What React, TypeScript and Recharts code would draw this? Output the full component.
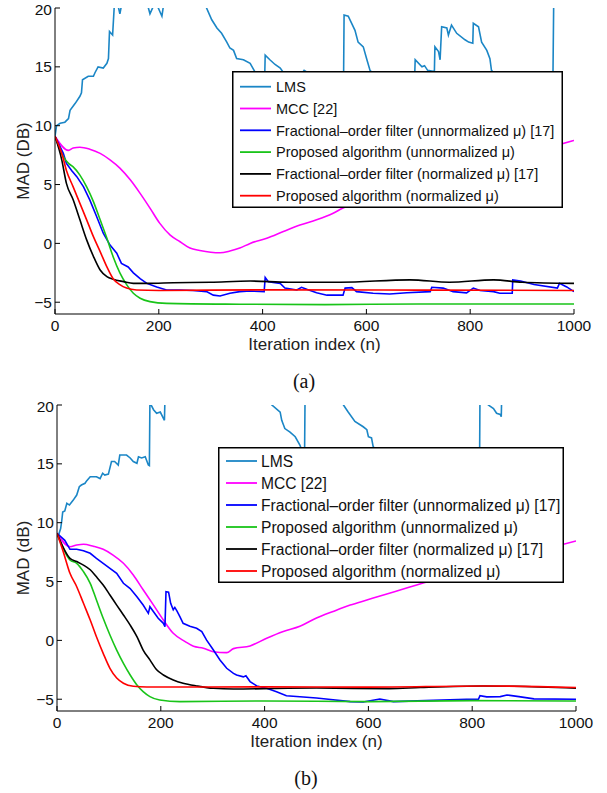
import React from "react";
import { Label, Legend, Line, LineChart, XAxis, YAxis } from "recharts";

type Pt = [number, number];

const FONT = "'Liberation Sans', Arial, Helvetica, sans-serif";
const SERIF = "'Liberation Serif', 'Times New Roman', serif";

const xTicks = [0, 200, 400, 600, 800, 1000];
const yTicks = [-5, 0, 5, 10, 15, 20];

const seriesNames = [
	"LMS",
	"MCC [22]",
	"Fractional\u2013order filter (unnormalized \u03bc) [17]",
	"Proposed algorithm (unnormalized \u03bc)",
	"Fractional\u2013order filter (normalized \u03bc) [17]",
	"Proposed algorithm (normalized \u03bc)",
];
const seriesColors = ["#1b86c6", "#ff00ff", "#0000ff", "#19c419", "#000000", "#ff0000"];
const smoothSeries = [false, true, false, true, true, true];

// ---- panel (a) ----
const lmsA: Pt[] = [
	[0, 9.1], [3, 10.0], [10, 10.2], [19, 10.3], [26, 10.6], [29, 11.3], [39, 11.9], [48, 12.5],
	[51, 12.8], [53, 13.9], [64, 14.2], [74, 14.2], [77, 14.5], [83, 15.0], [93, 14.9], [100, 15.3],
	[103, 15.7], [105, 18.0], [111, 17.7], [114, 20.0], [118, 21], [122, 20.1], [125, 19.5], [128, 20.2],
	[135, 21.5], [160, 22], [178, 21], [180, 20], [183, 19.5], [189, 20.1], [192, 21], [197, 20.2],
	[199, 20], [206, 19.3], [209, 20.2], [215, 21.5], [250, 23], [280, 21.5], [292, 20], [302, 19.0],
	[312, 18.3], [321, 17.85], [331, 17.1], [337, 16.6], [344, 16.4], [350, 15.7], [363, 15.6], [376, 15.3],
	[385, 14.6], [392, 14.2], [400, 13.9], [404, 14.1], [405, 16.0], [414, 15.6], [424, 15.2], [434, 14.9],
	[445, 14.2], [460, 14.0], [475, 14.4], [480, 14.7], [484, 14.6], [495, 14.2], [520, 13.8], [545, 13.5],
	[556, 13.9], [557, 19.4], [565, 19.3], [578, 18.1], [584, 17.1], [594, 16.7], [601, 15.6], [607, 14.7],
	[620, 14.0], [650, 13.6], [680, 13.9], [693, 14.2], [694, 15.6], [707, 15.0], [712, 15.1], [718, 14.7],
	[731, 14.6], [732, 16.7], [739, 16.3], [742, 15.6], [745, 18.4], [755, 18.3], [758, 17.7], [764, 18.55],
	[774, 17.85], [790, 17.3], [797, 17.1], [805, 17.0], [806, 18.7], [816, 18.4], [822, 17.1], [832, 16.4],
	[838, 15.7], [841, 14.7], [860, 13.8], [900, 12.9], [940, 12.4], [959, 12.2], [961, 21], [1000, 22],
];
const mccA: Pt[] = [
	[0, 9.1], [26, 7.9], [35, 8.1], [48, 8.17], [67, 8.0], [87, 7.65], [106, 7.1], [125, 6.4],
	[145, 5.4], [164, 4.25], [183, 3.0], [202, 1.7], [222, 0.7], [241, 0.14], [260, -0.4], [279, -0.6],
	[300, -0.75], [318, -0.8], [337, -0.65], [356, -0.4], [376, 0.0], [408, 0.43], [440, 1.0], [472, 1.56],
	[504, 2.0], [536, 2.56], [555, 3.0], [600, 3.6], [700, 4.9], [800, 6.2], [900, 7.5], [1000, 8.75],
];
const fracUnA: Pt[] = [
	[0, 9.1], [16, 7.65], [22, 6.8], [32, 6.2], [42, 5.67], [55, 4.8], [67, 3.7], [80, 2.3],
	[93, 0.86], [106, -0.14], [119, -0.84], [128, -1.7], [141, -2.0], [151, -2.5], [164, -3.0], [177, -3.4],
	[196, -3.7], [215, -3.96], [241, -3.96], [266, -4.0], [292, -4.1], [305, -4.4], [318, -4.47], [337, -4.24],
	[356, -4.1], [376, -4.05], [403, -4.1], [405, -2.9], [411, -3.25], [434, -3.4], [443, -3.8], [466, -3.96],
	[475, -3.73], [485, -3.9], [504, -4.2], [524, -4.4], [555, -4.4], [559, -3.8], [572, -3.76], [581, -4.1],
	[613, -4.24], [645, -4.3], [678, -4.2], [723, -4.1], [726, -3.73], [748, -3.8], [767, -4.1], [793, -4.2],
	[806, -3.8], [819, -4.0], [845, -4.1], [857, -4.24], [881, -4.24], [882, -3.1], [897, -3.2], [923, -3.5],
	[968, -3.8], [972, -3.4], [986, -3.7], [1000, -4.1],
];
const propUnA: Pt[] = [
	[0, 9.1], [16, 7.37], [26, 6.8], [35, 6.5], [48, 5.8], [61, 4.8], [74, 3.55], [87, 2.0],
	[100, 0.43], [112, -1.13], [125, -2.5], [138, -3.5], [151, -4.24], [164, -4.66], [183, -4.95], [215, -5.1],
	[356, -5.17], [520, -5.2], [700, -5.15], [1000, -5.15],
];
const fracNA: Pt[] = [
	[0, 9.1], [13, 7.1], [22, 5.1], [35, 3.7], [48, 2.0], [61, 0.3], [74, -1.1], [87, -2.26],
	[100, -2.83], [112, -3.05], [132, -3.25], [151, -3.4], [177, -3.4], [228, -3.35], [300, -3.3], [376, -3.2],
	[450, -3.3], [550, -3.3], [684, -3.1], [760, -3.3], [845, -3.1], [900, -3.3], [1000, -3.4],
];
const propNA: Pt[] = [
	[0, 9.1], [13, 7.65], [22, 6.2], [35, 4.8], [48, 3.4], [61, 2.0], [74, 0.57], [87, -0.7],
	[100, -2.0], [112, -3.0], [125, -3.5], [138, -3.8], [157, -3.96], [200, -4.0], [400, -3.95], [700, -3.97],
	[1000, -4.0],
];

// ---- panel (b) ----
const lmsB: Pt[] = [
	[0, 9.1], [3, 8.95], [7, 9.5], [9, 10.1], [11, 10.9], [15, 11.0], [19, 11.65], [24, 11.5],
	[31, 11.9], [38, 12.35], [43, 13.06], [47, 13.2], [54, 13.35], [57, 13.55], [64, 13.9], [76, 13.9],
	[83, 13.75], [88, 14.2], [92, 14.05], [99, 14.13], [105, 15.2], [111, 15.2], [118, 14.9], [121, 15.75],
	[134, 15.75], [141, 15.5], [147, 15.2], [154, 15.05], [157, 15.6], [163, 15.5], [170, 15.6], [176, 14.9],
	[178, 14.85], [179, 20.2], [186, 19.6], [192, 19.3], [199, 19.4], [207, 18.7], [208, 20.5], [230, 22],
	[300, 23], [380, 22], [414, 20], [430, 19.4], [433, 18.7], [439, 18.0], [449, 17.7], [459, 17.3],
	[468, 16.6], [473, 16.0], [477, 15.8], [478, 21], [520, 22], [552, 20], [561, 19.4], [574, 18.6],
	[590, 18.15], [597, 17.9], [600, 17.3], [606, 17.2], [609, 16.5], [620, 15.6], [700, 14.5], [780, 13.8],
	[814, 13.5], [815, 21], [831, 20], [841, 19.7], [847, 19.3], [854, 19.2], [856, 19.0], [857, 21],
	[1000, 23],
];
const mccB: Pt[] = [
	[0, 9.1], [25, 7.96], [38, 8.1], [51, 8.17], [70, 8.0], [89, 7.74], [108, 7.25], [128, 6.55],
	[147, 5.56], [166, 4.3], [186, 3.0], [205, 1.73], [224, 0.6], [247, -0.1], [263, -0.5], [282, -0.66],
	[301, -0.96], [327, -1.04], [340, -0.7], [372, -0.47], [404, 0.18], [436, 0.75], [468, 1.2], [500, 1.9],
	[532, 2.46], [565, 3.0], [597, 3.43], [629, 3.86], [661, 4.28], [693, 4.7], [800, 6.1], [900, 7.3],
	[1000, 8.45],
];
const fracUnB: Pt[] = [
	[0, 9.1], [15, 8.5], [25, 7.74], [38, 7.74], [51, 7.62], [64, 7.4], [76, 6.97], [89, 6.55],
	[102, 6.12], [115, 5.7], [128, 4.85], [141, 4.4], [154, 3.7], [166, 3.0], [176, 2.3], [179, 2.86],
	[186, 2.44], [195, 1.88], [205, 1.45], [208, 1.17], [210, 4.14], [215, 4.1], [219, 3.15], [224, 2.6],
	[227, 2.8], [231, 2.5], [237, 2.0], [243, 1.45], [256, 1.2], [269, 1.03], [279, 0.75], [288, 0.04],
	[301, -0.8], [314, -1.66], [327, -2.37], [340, -2.8], [346, -2.94], [359, -3.1], [364, -3.0], [372, -3.5],
	[385, -3.87], [404, -4.07], [423, -4.36], [442, -4.7], [468, -4.79], [500, -4.9], [532, -5.05], [565, -5.2],
	[590, -5.24], [622, -4.98], [648, -5.2], [725, -5.1], [789, -5.0], [812, -5.0], [815, -4.7], [828, -4.8],
	[854, -4.78], [867, -4.64], [890, -4.78], [919, -4.97], [1000, -5.0],
];
const propUnB: Pt[] = [
	[0, 9.1], [25, 6.83], [38, 6.55], [51, 5.84], [64, 4.85], [76, 3.43], [89, 1.88], [102, 0.46],
	[115, -0.82], [128, -1.95], [141, -2.94], [154, -3.79], [166, -4.36], [179, -4.78], [198, -5.07], [237, -5.2],
	[400, -5.15], [600, -5.2], [800, -5.12], [1000, -5.15],
];
const fracNB: Pt[] = [
	[0, 9.1], [25, 6.97], [38, 6.7], [51, 6.4], [64, 6.0], [76, 5.4], [89, 4.7], [102, 3.86],
	[115, 3.0], [128, 2.16], [141, 1.3], [154, 0.32], [166, -0.82], [179, -1.66], [192, -2.5], [205, -2.94],
	[224, -3.36], [243, -3.64], [269, -3.87], [301, -4.07], [340, -4.13], [500, -4.05], [640, -4.1], [700, -4.0],
	[821, -3.87], [880, -3.9], [1000, -4.07],
];
const propNB: Pt[] = [
	[0, 9.1], [12, 7.54], [25, 5.7], [38, 4.56], [51, 3.15], [64, 1.73], [76, 0.31], [89, -1.1],
	[102, -2.37], [115, -3.2], [128, -3.64], [147, -3.9], [173, -3.96], [400, -3.95], [600, -3.97], [821, -3.87],
	[1000, -4.0],
];

const toRows = (pts: Pt[]) => pts.map(([n, v]) => ({ n, v }));
const fmtY = (v: number) => (v < 0 ? `\u2212${Math.abs(v)}` : `${v}`);

interface LegendGeom {
	left: number;
	top: number;
	width: number;
	height: number;
	rowTop: number;
	rowGap: number;
	lineX0: number;
	lineX1: number;
	textX: number;
	fontSize: number;
}

function LegendBox({ g }: { g: LegendGeom }) {
	return (
		<svg width={g.width} height={g.height} style={{ display: "block" }}>
			<rect x={0.75} y={0.75} width={g.width - 1.5} height={g.height - 1.5} fill="#fff" stroke="#000" strokeWidth={1.5} />
			{seriesNames.map((name, i) => {
				const cy = g.rowTop + i * g.rowGap;
				return (
					<g key={name}>
						<line x1={g.lineX0} x2={g.lineX1} y1={cy} y2={cy} stroke={seriesColors[i]} strokeWidth={1.8} />
						<text x={g.textX} y={cy + g.fontSize * 0.36} fontSize={g.fontSize} fontFamily={FONT} fill="#111">
							{name}
						</text>
					</g>
				);
			})}
		</svg>
	);
}

interface PanelProps {
	series: Pt[][];
	yLabel: string;
	yAxisWidth: number;
	rightMargin: number;
	legend: LegendGeom;
}

function Panel({ series, yLabel, yAxisWidth, rightMargin, legend }: PanelProps) {
	const axisTick = { fontSize: 15.5, fill: "#111", fontFamily: FONT };
	return (
		<LineChart width={607} height={360} margin={{ top: 8, right: rightMargin, left: 0, bottom: 0 }}>
			<XAxis
				xAxisId="x"
				dataKey="n"
				type="number"
				domain={[0, 1000]}
				ticks={xTicks}
				allowDataOverflow
				height={46}
				tickSize={-5}
				tickMargin={11}
				stroke="#000"
				tick={axisTick}
			>
				<Label value="Iteration index (n)" position="insideBottom" offset={10} fontSize={17} fill="#222" fontFamily={FONT} />
			</XAxis>
			<XAxis
				xAxisId="top"
				orientation="top"
				type="number"
				domain={[0, 1000]}
				ticks={xTicks}
				allowDataOverflow
				height={0}
				tickSize={-5}
				stroke="#000"
				tickFormatter={() => ""}
			/>
			<YAxis
				yAxisId="y"
				type="number"
				domain={[-6, 20]}
				ticks={yTicks}
				allowDataOverflow
				width={yAxisWidth}
				tickSize={-5}
				tickMargin={8}
				stroke="#000"
				tick={axisTick}
				tickFormatter={fmtY}
			>
				<Label
					value={yLabel}
					angle={-90}
					position="insideLeft"
					offset={23}
					fontSize={17}
					fill="#222"
					fontFamily={FONT}
					style={{ textAnchor: "middle" }}
				/>
			</YAxis>
			<YAxis
				yAxisId="right"
				orientation="right"
				type="number"
				domain={[-6, 20]}
				ticks={yTicks}
				allowDataOverflow
				width={0}
				tickSize={-5}
				stroke="#000"
				tickFormatter={() => ""}
			/>
			<Legend
				layout="vertical"
				align="center"
				verticalAlign="middle"
				wrapperStyle={{ left: legend.left, top: legend.top, width: legend.width, height: legend.height }}
				content={() => <LegendBox g={legend} />}
			/>
			{series.map((pts, i) => (
				<Line
					key={seriesNames[i]}
					xAxisId="x"
					yAxisId="y"
					data={toRows(pts)}
					dataKey="v"
					name={seriesNames[i]}
					type={smoothSeries[i] ? "monotone" : "linear"}
					stroke={seriesColors[i]}
					strokeWidth={1.6}
					dot={false}
					activeDot={false}
					isAnimationActive={false}
				/>
			))}
		</LineChart>
	);
}

const legendA: LegendGeom = {
	left: 232, top: 71, width: 331, height: 137,
	rowTop: 15.7, rowGap: 21.8, lineX0: 8, lineX1: 39, textX: 44, fontSize: 14.5,
};
const legendB: LegendGeom = {
	left: 218, top: 50, width: 346, height: 136,
	rowTop: 14, rowGap: 22, lineX0: 8, lineX1: 39, textX: 43, fontSize: 15.6,
};

const captionStyle: React.CSSProperties = {
	position: "absolute",
	width: 60,
	textAlign: "center",
	fontFamily: SERIF,
	fontSize: 20,
	lineHeight: "20px",
	color: "#111",
};

export default function App() {
	return (
		<div style={{ position: "absolute", left: 0, top: 0, width: 607, height: 793, background: "#fff" }}>
			<div style={{ position: "absolute", left: 0, top: 0 }}>
				<Panel
					series={[lmsA, mccA, fracUnA, propUnA, fracNA, propNA]}
					yLabel="MAD (DB)"
					yAxisWidth={55}
					rightMargin={33}
					legend={legendA}
				/>
			</div>
			<div style={{ ...captionStyle, left: 274, top: 371 }}>(a)</div>
			<div style={{ position: "absolute", left: 0, top: 397 }}>
				<Panel
					series={[lmsB, mccB, fracUnB, propUnB, fracNB, propNB]}
					yLabel="MAD (dB)"
					yAxisWidth={57}
					rightMargin={31}
					legend={legendB}
				/>
			</div>
			<div style={{ ...captionStyle, left: 276, top: 768 }}>(b)</div>
		</div>
	);
}
